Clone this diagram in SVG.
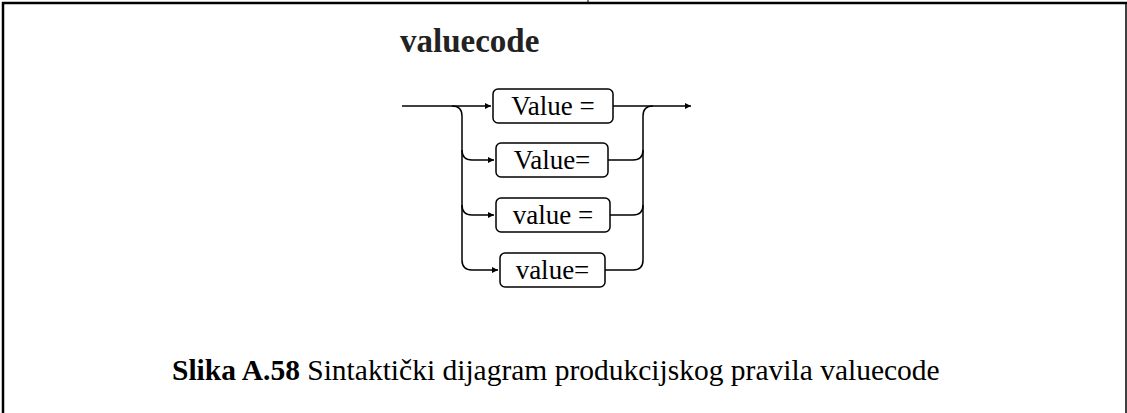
<svg xmlns="http://www.w3.org/2000/svg" width="1127" height="413" viewBox="0 0 1127 413">
<defs>
<style>
.ln{fill:none;stroke:#000;stroke-width:1.5}
.box{fill:#fff;stroke:#000;stroke-width:1.5}
.sf{font-family:"Liberation Serif",Tinos,"Times New Roman","DejaVu Serif",serif}
.t{font-size:27px;fill:#000;text-anchor:middle}
.frame{stroke:#000;fill:none}
</style>
<marker id="ah" viewBox="0 0 10 10" refX="10" refY="5" markerWidth="9" markerHeight="6" markerUnits="userSpaceOnUse" orient="auto">
<path d="M0,0L10,5L0,10z" fill="#000"/>
</marker>
</defs>
<rect width="1127" height="413" fill="#fff"/>
<g id="frame">
<line class="frame" x1="2" y1="3" x2="1127" y2="3" stroke-width="2.5"/>
<line class="frame" x1="3" y1="2" x2="3" y2="413" stroke-width="2.5"/>
<line class="frame" x1="1126" y1="2" x2="1126" y2="413" stroke-width="1.5"/>
<line class="frame" x1="588" y1="0" x2="588" y2="3" stroke-width="1"/>
</g>
<text class="sf" x="400" y="52" font-size="33" font-weight="bold" fill="#222">valuecode</text>
<g id="connectors">
<path class="ln" d="M402,106H491" marker-end="url(#ah)"/>
<path class="ln" d="M613,106H691" marker-end="url(#ah)"/>
<path class="ln" d="M452,106Q462,106 462,116V260Q462,270 472,270"/>
<path class="ln" d="M462,150Q462,160 472,160H494" marker-end="url(#ah)"/>
<path class="ln" d="M462,205Q462,215 472,215H494" marker-end="url(#ah)"/>
<path class="ln" d="M472,270H498" marker-end="url(#ah)"/>
<path class="ln" d="M653,106Q643,106 643,116V260Q643,270 633,270H605"/>
<path class="ln" d="M643,150Q643,160 633,160H608"/>
<path class="ln" d="M643,205Q643,215 633,215H610"/>
</g>
<g id="n1"><rect class="box" x="493" y="89" width="120" height="34" rx="5"/><text class="t sf" x="553" y="115">Value =</text></g>
<g id="n2"><rect class="box" x="496" y="143" width="112" height="34" rx="5"/><text class="t sf" x="552" y="169">Value=</text></g>
<g id="n3"><rect class="box" x="496" y="198" width="114" height="34" rx="5"/><text class="t sf" x="553" y="224">value =</text></g>
<g id="n4"><rect class="box" x="500" y="253" width="105" height="34" rx="5"/><text class="t sf" x="552.5" y="279">value=</text></g>
<text class="sf" x="172" y="380" font-size="29.5" fill="#000"><tspan font-weight="bold">Slika A.58</tspan> Sintaktički dijagram produkcijskog pravila valuecode</text>
</svg>
